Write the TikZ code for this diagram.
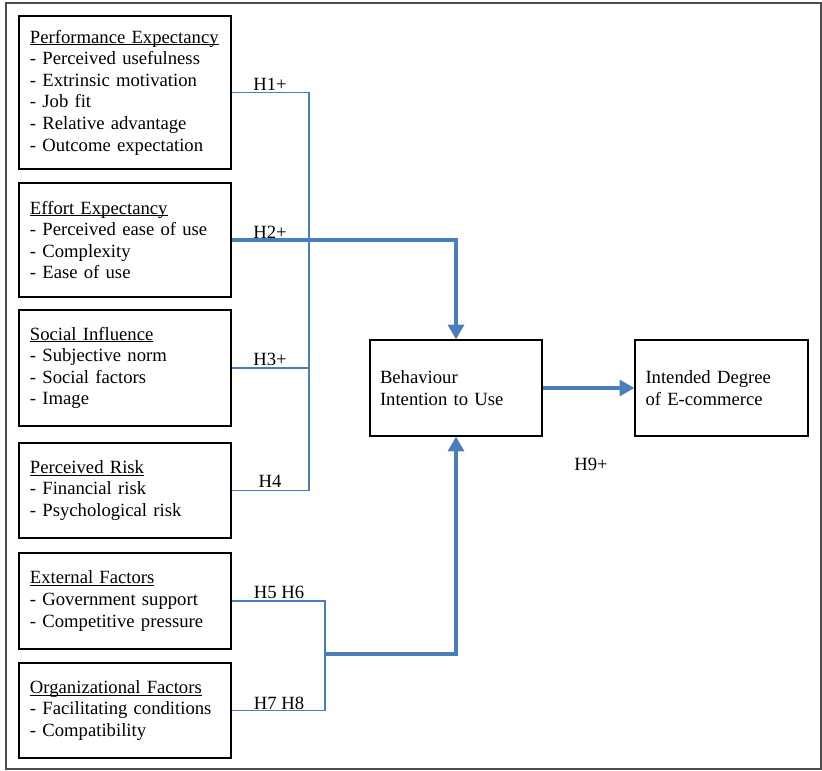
\documentclass[tikz,border=0pt]{standalone}
\usepackage{fontspec}
\setmainfont{Liberation Serif}
\usetikzlibrary{arrows.meta}
\definecolor{lblue}{RGB}{74,126,187}
\newcommand\ulx[1]{\setbox0\hbox{#1}\usebox0\llap{\rule[-1.6pt]{\wd0}{0.6pt}}}
\begin{document}
\begin{tikzpicture}[x=0.75pt,y=-0.75pt,
  every node/.style={font=\fontsize{14}{16.2}\selectfont},
  lbox/.style={draw=black,line width=1pt,rectangle,minimum width=159pt,text width=142.5pt,inner xsep=8.25pt,align=left},
  rbox/.style={draw=black,line width=1pt,rectangle,minimum width=129pt,minimum height=72pt,text width=114pt,inner xsep=7.5pt,align=left},
  thinline/.style={draw=lblue,line width=0.9pt},
  thickline/.style={draw=lblue,line width=2.3pt},
  arr/.style={-{Triangle[length=11pt,width=12pt]}},
  hlab/.style={inner sep=0pt}]
\useasboundingbox (0,0) rectangle (822,771);
\draw[draw=black!70,line width=1.3pt] (6,3) rectangle (821,769);

\node[lbox,minimum height=114.75pt] (pe) at (125,92.5) {\ulx{Performance Expectancy}\\- Perceived usefulness\\- Extrinsic motivation\\- Job fit\\- Relative advantage\\- Outcome expectation};
\node[lbox,minimum height=85.5pt] (ee) at (125,240) {\ulx{Effort Expectancy}\\- Perceived ease of use\\- Complexity\\- Ease of use};
\node[lbox,minimum height=87pt] (si) at (125,368) {\ulx{Social Influence}\\- Subjective norm\\- Social factors\\- Image};
\node[lbox,minimum height=71.25pt] (pr) at (125,490.5) {\ulx{Perceived Risk}\\- Financial risk\\- Psychological risk};
\node[lbox,minimum height=72pt] (ef) at (125,601) {\ulx{External Factors}\\- Government support\\- Competitive pressure};
\node[lbox,minimum height=71.25pt] (of) at (125,710.5) {\ulx{Organizational Factors}\\- Facilitating conditions\\- Compatibility};

\node[rbox] (bi) at (456,388) {Behaviour\\Intention to Use};
\node[rbox,minimum width=129.75pt] (ib) at (721.5,388) {Intended Degree\\of E-commerce};

\coordinate (v) at (309,93);
\coordinate (m) at (325,654);

\draw[thinline] (pe.east) -| (v) |- (pr.east);
\draw[thinline] (si.east) -- (si.east -| v);
\draw[thickline,arr] (ee.east) -| (bi.north);
\draw[thinline] (ef.east) -| (m) |- (of.east);
\draw[thickline,arr] (m) -| (bi.south);
\draw[thickline,arr] (bi.east) -- (ib.west);

\node[hlab] (h1) at (270,84) {H1+};
\node[hlab] (h2) at (270,232) {H2+};
\node[hlab] (h3) at (270,359) {H3+};
\node[hlab] (h4) at (270,481) {H4};
\node[hlab] (h56) at (279,592) {H5 H6};
\node[hlab] (h78) at (279,703) {H7 H8};
\node[hlab] (h9) at (591,464) {H9+};
\end{tikzpicture}
\end{document}
